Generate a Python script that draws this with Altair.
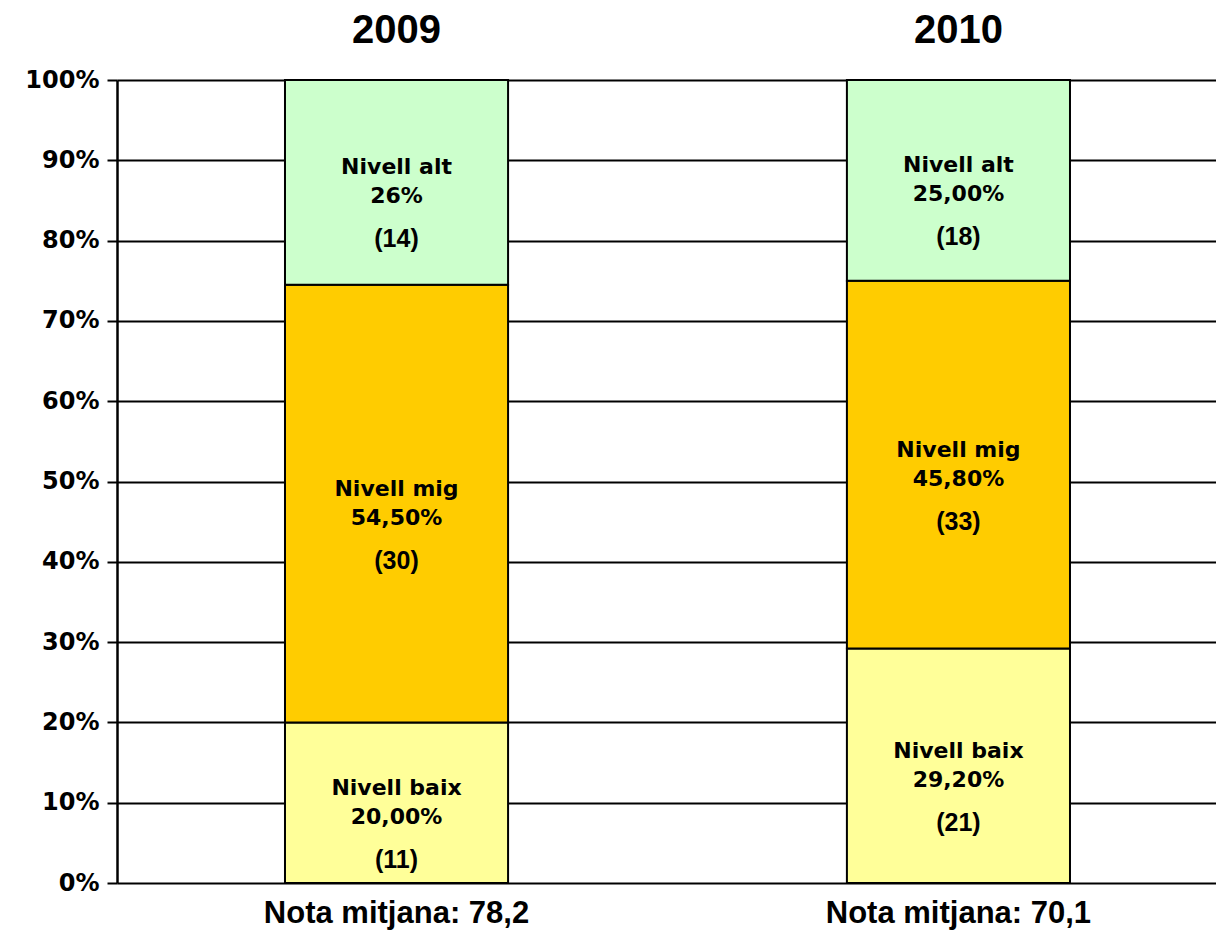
import altair as alt
import pandas as pd

years = ["2009", "2010"]
levels = ["Nivell baix", "Nivell mig", "Nivell alt"]
pct_2009 = [20.0, 54.5, 25.5]
pct_2010 = [29.2, 45.8, 25.0]
pct_labels_2009 = ["20,00%", "54,50%", "26%"]
pct_labels_2010 = ["29,20%", "45,80%", "25,00%"]
counts_2009 = [11, 30, 14]
counts_2010 = [21, 33, 18]
means = ["78,2", "70,1"]
colors = ["#FFFF99", "#FFCC00", "#CCFFCC"]

rows = []
for yr, pcts, plabs, cnts in [
    ("2009", pct_2009, pct_labels_2009, counts_2009),
    ("2010", pct_2010, pct_labels_2010, counts_2010),
]:
    start = 0.0
    for lev, p, pl, c in zip(levels, pcts, plabs, cnts):
        rows.append({
            "year": yr, "level": lev, "y0": start, "y1": start + p,
            "mid": start + p / 2, "plabel": pl, "clabel": f"({c})",
        })
        start += p
df = pd.DataFrame(rows)
top_df = pd.DataFrame({"year": years, "note": [f"Nota mitjana: {m}" for m in means]})

W, H = 1099, 803
xscale = alt.Scale(domain=years, paddingInner=0.603, paddingOuter=0.2794, align=0.535)
xenc = alt.X("year:N", scale=xscale, axis=None)
yscale = alt.Scale(domain=[0, 100])

base = alt.Chart(df)
bars = base.mark_bar(stroke="black", strokeWidth=2).encode(
    x=xenc,
    y=alt.Y("y0:Q", scale=yscale, axis=alt.Axis(
        values=list(range(0, 101, 10)), labelExpr="datum.value + '%'",
        title=None, grid=True, gridColor="black", gridWidth=1.8, gridOpacity=1,
        domainColor="black", domainWidth=2.5, tickColor="black", tickWidth=2,
        tickSize=10, labelPadding=8, labelFont="DejaVu Sans", labelFontWeight="bold",
        labelFontSize=24, labelColor="black")),
    y2="y1:Q",
    color=alt.Color("level:N", scale=alt.Scale(domain=levels, range=colors), legend=None),
)

def txt(field, dy, font, size):
    return base.mark_text(dy=dy, font=font, fontWeight="bold", fontSize=size,
                          color="black", baseline="middle").encode(
        x=xenc, y=alt.Y("mid:Q", scale=yscale), text=f"{field}:N")

l1 = txt("level", -15, "DejaVu Sans", 22)
l2 = txt("plabel", 14, "DejaVu Sans", 22)
l3 = txt("clabel", 57, "Liberation Sans", 25)

tops = alt.Chart(top_df).mark_text(font="Liberation Sans", fontWeight="bold",
                                   fontSize=40, color="black", baseline="middle").encode(
    x=xenc, y=alt.value(-49), text="year:N")
notes = alt.Chart(top_df).mark_text(font="Liberation Sans", fontWeight="bold",
                                    fontSize=31, color="black", baseline="middle").encode(
    x=xenc, y=alt.value(H + 31), text="note:N")

chart = alt.layer(bars, l1, l2, l3, tops, notes).properties(
    width=W, height=H,
    autosize=alt.AutoSizeParams(type="none"),
    padding={"left": 109, "top": 72, "right": 0, "bottom": 51},
    background="white",
).configure_view(stroke=None)

chart.save("out.html", embed_options={"renderer": "svg", "actions": False})
